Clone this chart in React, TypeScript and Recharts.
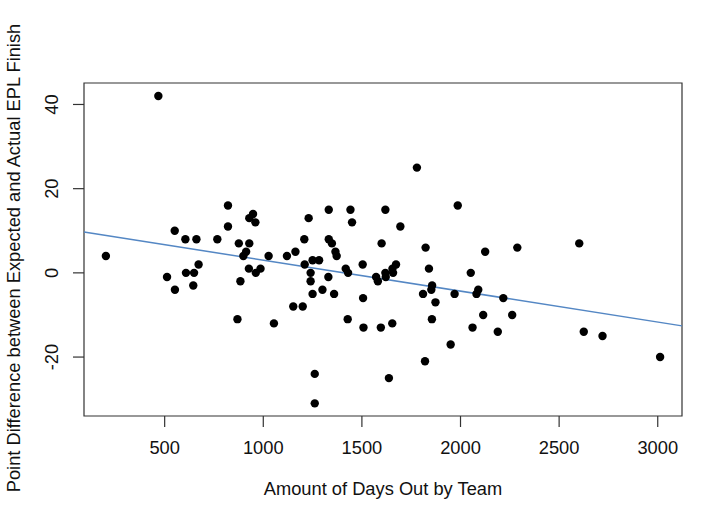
import { ReferenceArea, ReferenceLine, Scatter, ScatterChart, XAxis, YAxis } from 'recharts';

// days out per team (x) and point difference expected vs actual (y)
const DAYS_OUT = [
  202, 468, 512, 551, 552, 605, 608, 649, 645, 661, 672, 767, 821, 821, 869, 876, 884, 899, 913,
  927, 929, 929, 948, 960, 962, 986, 1027, 1054, 1120, 1152, 1163, 1200, 1208, 1210, 1230, 1240,
  1240, 1250, 1250, 1261, 1261, 1283, 1300, 1330, 1332, 1332, 1348, 1359, 1366, 1372, 1418, 1430,
  1428, 1442, 1450, 1504, 1506, 1508, 1572, 1581, 1596, 1600, 1619, 1619, 1621, 1637, 1654, 1655,
  1658, 1673, 1695, 1779, 1810, 1820, 1823, 1840, 1852, 1856, 1855, 1873, 1950, 1970, 1986, 2052,
  2061, 2081, 2090, 2115, 2125, 2189, 2217, 2262, 2288, 2602, 2625, 2720, 3012,
];
const POINT_DIFF = [
  4, 42, -1, 10, -4, 8, 0, 0, -3, 8, 2, 8, 16, 11, -11, 7, -2, 4, 5, 1, 7, 13, 14, 12, 0, 1, 4,
  -12, 4, -8, 5, -8, 8, 2, 13, 0, -2, 3, -5, -24, -31, 3, -4, -1, 15, 8, 7, -5, 5, 4, 1, 0, -11,
  15, 12, 2, -6, -13, -1, -2, -13, 7, 15, 0, -1, -25, -12, 1, 0, 2, 11, 25, -5, -21, 6, 1, -4, -3,
  -11, -7, -17, -5, 16, 0, -13, -5, -4, -10, 5, -14, -6, -10, 6, 7, -14, -15, -20,
];
const X_TICKS = [500, 1000, 1500, 2000, 2500, 3000];
const Y_TICKS = [-20, 0, 20, 40];
const X_DOMAIN: [number, number] = [91, 3123];
const Y_DOMAIN: [number, number] = [-34, 45.1];

const points = DAYS_OUT.map((days, i) => ({ days, diff: POINT_DIFF[i] }));

// least squares line, same as abline(lm(diff ~ days))
const meanX = DAYS_OUT.reduce((a, b) => a + b, 0) / DAYS_OUT.length;
const meanY = POINT_DIFF.reduce((a, b) => a + b, 0) / POINT_DIFF.length;
let sxy = 0;
let sxx = 0;
DAYS_OUT.forEach((x, i) => {
  sxy += (x - meanX) * (POINT_DIFF[i] - meanY);
  sxx += (x - meanX) * (x - meanX);
});
const slope = sxy / sxx;
const intercept = meanY - slope * meanX;
const fitAt = (x: number) => intercept + slope * x;

const FONT = '"Liberation Sans", Arial, Helvetica, sans-serif';
const FONT_SIZE = 18.3;
const INK = '#111';

function XTick({ x, y, payload }: any) {
  return (
    <text x={x} y={y} dy="0.71em" textAnchor="middle" fontSize={FONT_SIZE} fontFamily={FONT} fill={INK}>
      {payload.value}
    </text>
  );
}

function YTick({ x, y, payload }: any) {
  return (
    <text
      transform={`translate(${x},${y}) rotate(-90)`}
      textAnchor="middle"
      fontSize={FONT_SIZE}
      fontFamily={FONT}
      fill={INK}
    >
      {payload.value}
    </text>
  );
}

const Dot = (props: any) => <circle cx={props.cx} cy={props.cy} r={4.2} fill="#000" />;

export default function App() {
  return (
    <div style={{ position: 'absolute', left: 0, top: 0, width: 726, height: 516, background: '#fff' }}>
      <ScatterChart width={726} height={516} margin={{ top: 83, right: 44, bottom: 0, left: 0 }}>
        <XAxis
          type="number"
          dataKey="days"
          domain={X_DOMAIN}
          ticks={X_TICKS}
          allowDataOverflow
          axisLine={false}
          tickSize={11}
          tickMargin={14}
          tickLine={{ stroke: '#333', strokeWidth: 1.2 }}
          tick={<XTick />}
          height={100}
          label={{
            content: () => (
              <text x={383} y={495} textAnchor="middle" fontSize={FONT_SIZE} fontFamily={FONT} fill={INK}>
                Amount of Days Out by Team
              </text>
            ),
          }}
        />
        <YAxis
          type="number"
          dataKey="diff"
          domain={Y_DOMAIN}
          ticks={Y_TICKS}
          allowDataOverflow
          axisLine={false}
          tickSize={11}
          tickMargin={15}
          tickLine={{ stroke: '#333', strokeWidth: 1.2 }}
          tick={<YTick />}
          width={84}
          label={{
            content: () => (
              <text
                transform="translate(20,258) rotate(-90)"
                textAnchor="middle"
                fontSize={FONT_SIZE}
                fontFamily={FONT}
                fill={INK}
              >
                Point Difference between Expected and Actual EPL Finish
              </text>
            ),
          }}
        />
        <ReferenceArea
          x1={X_DOMAIN[0]}
          x2={X_DOMAIN[1]}
          y1={Y_DOMAIN[0]}
          y2={Y_DOMAIN[1]}
          fill="none"
          fillOpacity={0}
          stroke="#333"
          strokeWidth={1.2}
          ifOverflow="visible"
        />
        <ReferenceLine
          segment={[
            { x: X_DOMAIN[0], y: fitAt(X_DOMAIN[0]) },
            { x: X_DOMAIN[1], y: fitAt(X_DOMAIN[1]) },
          ]}
          stroke="#5487c4"
          strokeWidth={1.5}
          ifOverflow="visible"
        />
        <Scatter data={points} shape={Dot} isAnimationActive={false} />
      </ScatterChart>
    </div>
  );
}
